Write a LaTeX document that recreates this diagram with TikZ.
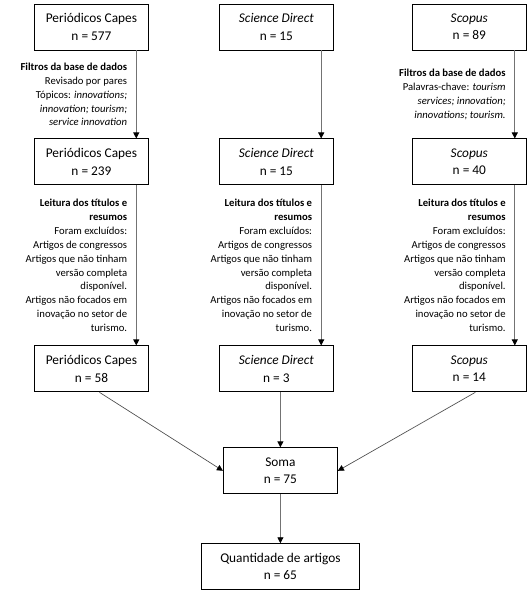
\documentclass[tikz,border=0pt]{standalone}
\usepackage{fontspec}
\setmainfont{Carlito}
\usetikzlibrary{positioning}
\usetikzlibrary{arrows.meta}

\newcommand{\leituranota}{\textbf{Leitura dos títulos e}\\ \textbf{resumos}\\ Foram excluídos:\\ Artigos de congressos\\ Artigos que não tinham\\ versão completa\\ disponível.\\ Artigos não focados em\\ inovação no setor de\\ turismo.}

\begin{document}
\begin{tikzpicture}[node distance=66pt,
  box_style/.style={rectangle, draw=black, line width=0.7pt, minimum width=85.5pt, minimum height=34.5pt, align=center, inner sep=2pt, font=\fontsize{10}{13}\selectfont},
  arrow_style/.style={draw=black!55, line width=0.7pt, -{Triangle[color=black, length=4.5pt, width=4.5pt]}},
  diag_style/.style={draw=black!70, line width=0.5pt, -{Triangle[color=black, length=4.5pt, width=4.5pt]}},
  note_style/.style={left, align=right, inner sep=6.5pt, font=\fontsize{8}{10.4}\selectfont}]

  \useasboundingbox (0,0) rectangle (397.5pt,-445.5pt);

  \node (cap1) [box_style] at (68.6pt,-20.25pt) {Periódicos Capes\\ n = 577};
  \node (sd1) [box_style, right=52.5pt of cap1] {\textit{Science Direct}\\ n = 15};
  \node (sc1) [box_style, right=58.5pt of sd1] {\textit{Scopus}\\ n = 89};
  %
  \node (cap2) [box_style, below=of cap1] {Periódicos Capes\\ n = 239};
  \node (sd2) [box_style, below=of sd1] {\textit{Science Direct}\\ n = 15};
  \node (sc2) [box_style, below=of sc1] {\textit{Scopus}\\ n = 40};
  %
  \node (cap3) [box_style, below=120pt of cap2] {Periódicos Capes\\ n = 58};
  \node (sd3) [box_style, below=120pt of sd2] {\textit{Science Direct}\\ n = 3};
  \node (sc3) [box_style, below=120pt of sc2] {\textit{Scopus}\\ n = 14};
  %
  \node (soma) [box_style, below=41.25pt of sd3, xshift=3pt] {Soma\\ n = 75};
  \node (quant) [box_style, minimum width=119pt, below=36.75pt of soma] {Quantidade de artigos\\ n = 65};

  % filtros
  \draw [arrow_style] ([xshift=-9.5pt]cap1.south east) -- node[note_style]{\textbf{Filtros da base de dados}\\ Revisado por pares\\ Tópicos: \textit{innovations;}\\ \textit{innovation; tourism;}\\ \textit{service innovation}} ([xshift=-9.5pt]cap2.north east);
  \draw [arrow_style] ([xshift=-9.5pt]sd1.south east) -- ([xshift=-9.5pt]sd2.north east);
  \draw [arrow_style] ([xshift=-9pt]sc1.south east) -- node[note_style]{\textbf{Filtros da base de dados}\\ Palavras-chave: \textit{tourism}\\ \textit{services; innovation;}\\ \textit{innovations; tourism.}} ([xshift=-9pt]sc2.north east);

  % leitura
  \draw [arrow_style] ([xshift=-9.5pt]cap2.south east) -- node[note_style]{\leituranota} ([xshift=-9.5pt]cap3.north east);
  \draw [arrow_style] ([xshift=-9.5pt]sd2.south east) -- node[note_style]{\leituranota} ([xshift=-9.5pt]sd3.north east);
  \draw [arrow_style] ([xshift=-9pt]sc2.south east) -- node[note_style]{\leituranota} ([xshift=-9pt]sc3.north east);

  % soma
  \draw [diag_style] ([xshift=6pt]cap3.south) -- (soma.west);
  \draw [arrow_style] (soma.north |- sd3.south) -- (soma.north);
  \draw [diag_style] ([xshift=4.5pt]sc3.south) -- (soma.east);
  \draw [arrow_style] (soma) -- (quant);
\end{tikzpicture}
\end{document}
